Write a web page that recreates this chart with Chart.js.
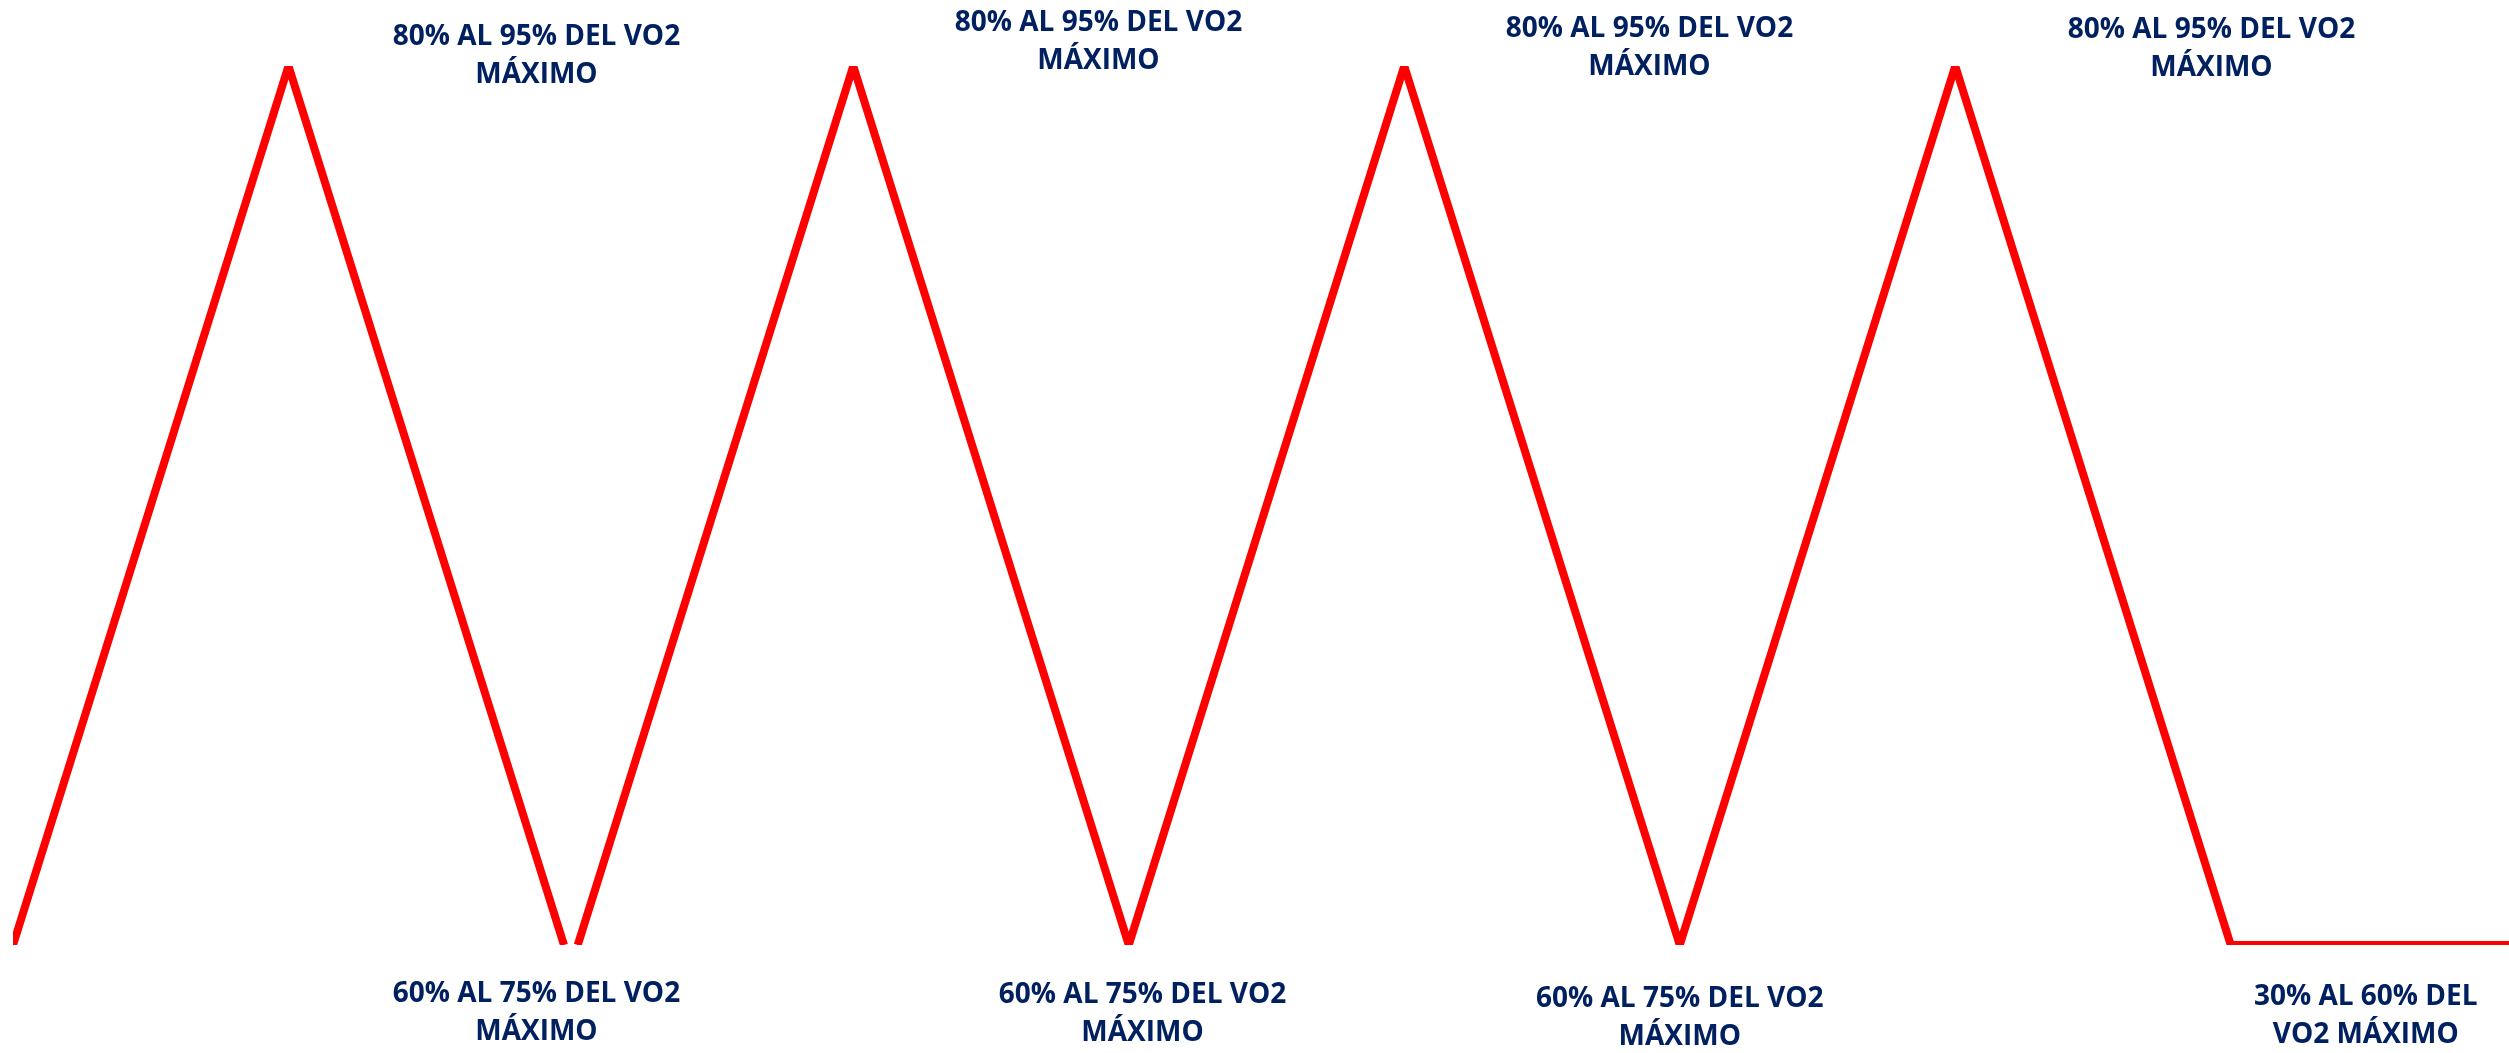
<!DOCTYPE html>
<html>
<head>
<meta charset="utf-8">
<script src="https://cdn.jsdelivr.net/npm/chart.js@4"></script>
<style>
  html, body { margin: 0; padding: 0; background: #ffffff; overflow: hidden; }
  #wrap { width: 2509px; height: 1053px; position: relative; }
</style>
</head>
<body>
<div id="wrap"><canvas id="intervalChart"></canvas></div>
<script>
// time axis (arbitrary units, 10 per climb/descent), null marks the small break after the first descent
const timePoints = [0, 10, 20, 20.25, 20.5, 30.5, 40.5, 50.5, 60.5, 70.5, 80.5, 90.6];
const intensity = [0, 1, 0, null, 0, 1, 0, 1, 0, 1, 0, 0];

const peakLabels = ["80% AL 95% DEL VO2", "MÁXIMO"];
const valleyLabels = ["60% AL 75% DEL VO2", "MÁXIMO"];
const recoveryLabels = ["30% AL 60% DEL", "VO2 MÁXIMO"];

// label anchors on the x axis plus first-line baseline in pixels
const topNotes = [
  { x: 19.0, baseline: 45, lines: peakLabels },
  { x: 39.4, baseline: 31, lines: peakLabels },
  { x: 59.4, baseline: 37, lines: peakLabels },
  { x: 79.8, baseline: 38, lines: peakLabels },
];
const bottomNotes = [
  { x: 19.0, baseline: 1002, lines: valleyLabels },
  { x: 41.0, baseline: 1003, lines: valleyLabels },
  { x: 60.5, baseline: 1007, lines: valleyLabels },
  { x: 85.4, baseline: 1005, lines: recoveryLabels },
];

const palette = {
  red: "#ff0000",
  navy: "#002060",
};

const notesPlugin = {
  id: "notes",
  afterDraw(chart) {
    const ctx = chart.ctx;
    const xScale = chart.scales.x;
    ctx.save();
    ctx.fillStyle = palette.navy;
    ctx.font = '700 28px "Open Sans"';
    ctx.textAlign = "center";
    ctx.textBaseline = "alphabetic";
    [...topNotes, ...bottomNotes].forEach((note) => {
      const cx = xScale.getPixelForValue(note.x);
      note.lines.forEach((line, i) => {
        ctx.fillText(line, cx, note.baseline + i * 38);
      });
    });
    ctx.restore();
  },
};

new Chart(document.getElementById("intervalChart"), {
  type: "line",
  data: {
    labels: timePoints,
    datasets: [
      {
        data: timePoints.map((t, i) => ({ x: t, y: intensity[i] })),
        borderColor: palette.red,
        borderWidth: 8,
        borderJoinStyle: "bevel",
        borderCapStyle: "butt",
        pointRadius: 0,
        tension: 0,
        spanGaps: false,
        fill: false,
      },
    ],
  },
  options: {
    responsive: true,
    maintainAspectRatio: false,
    animation: false,
    layout: { padding: { top: 66, bottom: 108, left: 13, right: 0 } },
    plugins: {
      legend: { display: false },
      tooltip: { enabled: false },
    },
    scales: {
      x: { type: "linear", min: 0, max: 90.6, display: false },
      y: { min: 0, max: 1, display: false },
    },
  },
  plugins: [notesPlugin],
});
</script>
</body>
</html>
